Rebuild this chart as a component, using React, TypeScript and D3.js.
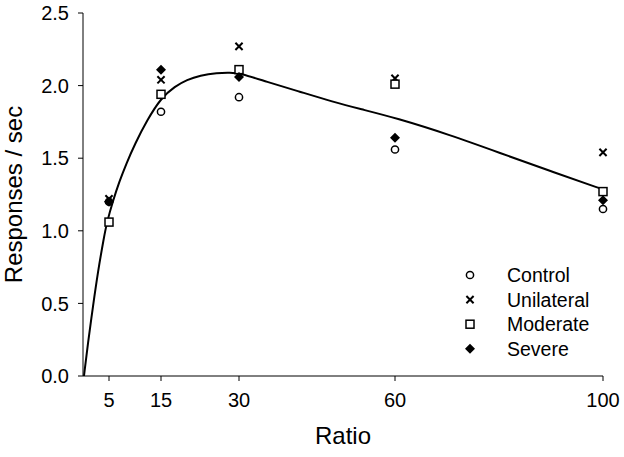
import React from "react";
import * as d3 from "d3";

const ratios = [5, 15, 30, 60, 100];
const control = [1.2, 1.82, 1.92, 1.56, 1.15];
const unilateral = [1.22, 2.04, 2.27, 2.05, 1.54];
const moderate = [1.06, 1.94, 2.11, 2.01, 1.27];
const severe = [1.2, 2.11, 2.06, 1.64, 1.21];

const curveX = [0.19, 0.96, 1.92, 2.88, 4.0, 4.6, 5.8, 7.0, 8.3, 10.0, 12.3, 15.0, 17.7, 20.0, 22.5, 25.8, 28.3, 30.2, 35.2, 41.7, 48.1, 53.3, 60.2, 70.6, 80.2, 89.8, 100];
const curveY = [0, 0.23, 0.48, 0.72, 0.95, 1.06, 1.21, 1.34, 1.46, 1.6, 1.76, 1.915, 1.995, 2.04, 2.07, 2.088, 2.09, 2.085, 2.028, 1.958, 1.888, 1.839, 1.777, 1.66, 1.536, 1.412, 1.285];

const xTicks = [5, 15, 30, 60, 100];
const yTicks = [0, 0.5, 1.0, 1.5, 2.0, 2.5];
const seriesNames = ["Control", "Unilateral", "Moderate", "Severe"];

const W = 624;
const H = 457;
const FONT = "'Liberation Sans', Arial, Helvetica, sans-serif";

const x = d3.scaleLinear().domain([0, 100]).range([83, 603]);
const y = d3.scaleLinear().domain([0, 2.5]).range([376, 13]);

function Marker({ kind, cx, cy }: { kind: number; cx: number; cy: number }) {
  if (kind === 0) {
    return <circle cx={cx} cy={cy} r={3.6} fill="white" stroke="black" strokeWidth={1.5} />;
  }
  if (kind === 1) {
    const s = 3.6;
    return (
      <path
        d={`M${cx - s},${cy - s}L${cx + s},${cy + s}M${cx - s},${cy + s}L${cx + s},${cy - s}`}
        stroke="black"
        strokeWidth={2}
        fill="none"
      />
    );
  }
  if (kind === 2) {
    return <rect x={cx - 4} y={cy - 4} width={8} height={8} fill="white" stroke="black" strokeWidth={1.5} />;
  }
  const s = 5;
  return <path d={`M${cx},${cy - s}L${cx + s},${cy}L${cx},${cy + s}L${cx - s},${cy}Z`} fill="black" />;
}

export default function App() {
  const series = [control, unilateral, moderate, severe];
  const line = d3
    .line<number>()
    .x((_, i) => x(curveX[i]))
    .y((d) => y(d))
    .curve(d3.curveBasis);
  const curvePath = line(curveY) || "";

  return (
    <svg
      width={W}
      height={H}
      style={{ position: "absolute", left: 0, top: 0, background: "white" }}
      fontFamily={FONT}
    >
      <rect x={0} y={0} width={W} height={H} fill="white" />
      <line x1={83} y1={y(0)} x2={603} y2={y(0)} stroke="black" strokeWidth={1} />
      <line x1={83} y1={y(0)} x2={83} y2={y(2.5)} stroke="black" strokeWidth={1} />
      {yTicks.map((t) => (
        <g key={"y" + t}>
          <line x1={78} x2={83} y1={y(t)} y2={y(t)} stroke="black" strokeWidth={1} />
          <text x={69} y={y(t)} dy="0.36em" textAnchor="end" fontSize={20}>
            {t.toFixed(1)}
          </text>
        </g>
      ))}
      {xTicks.map((t) => (
        <g key={"x" + t}>
          <line x1={x(t)} x2={x(t)} y1={y(0)} y2={y(0) + 5} stroke="black" strokeWidth={1} />
          <text x={x(t)} y={y(0) + 31} textAnchor="middle" fontSize={20}>
            {t}
          </text>
        </g>
      ))}
      <text x={343} y={444} textAnchor="middle" fontSize={24}>
        Ratio
      </text>
      <text transform={`translate(22,${(y(0) + y(2.5)) / 2}) rotate(-90)`} textAnchor="middle" fontSize={24}>
        Responses / sec
      </text>
      <path d={curvePath} fill="none" stroke="black" strokeWidth={2} />
      {series.map((vals, k) =>
        vals.map((v, i) => <Marker key={k + "-" + i} kind={k} cx={x(ratios[i])} cy={y(v)} />)
      )}
      {seriesNames.map((name, k) => (
        <g key={name}>
          <Marker kind={k} cx={470} cy={275 + k * 24.6} />
          <text x={507} y={275 + k * 24.6} dy="0.36em" fontSize={19.5}>
            {name}
          </text>
        </g>
      ))}
    </svg>
  );
}
